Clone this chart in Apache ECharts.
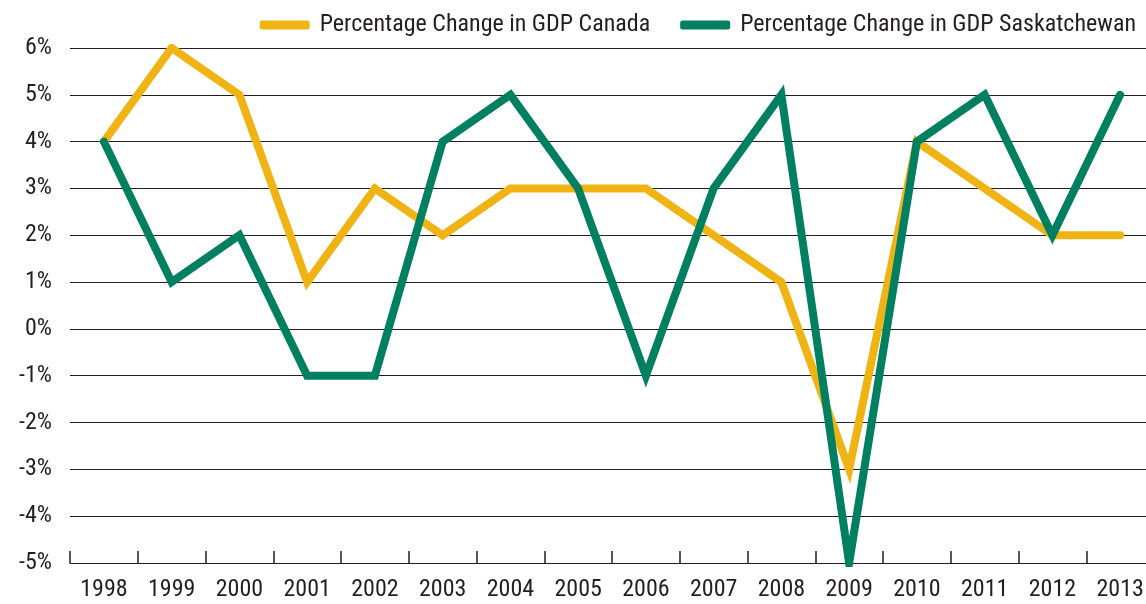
<!DOCTYPE html>
<html><head><meta charset="utf-8">
<script src="https://cdn.jsdelivr.net/npm/echarts@6/dist/echarts.min.js"></script>
<style>html,body{margin:0;padding:0;background:#fff;overflow:hidden}#c{width:1154px;height:604px}</style>
</head><body><div id="c"></div>
<script>
const years = ['1998','1999','2000','2001','2002','2003','2004','2005','2006','2007','2008','2009','2010','2011','2012','2013'];
const canada = [4,6,5,1,3,2,3,3,3,2,1,-3,4,3,2,2];
const sask = [4,1,2,-1,-1,4,5,3,-1,3,5,-5,4,5,2,5];
const seriesNames = ['Percentage Change in GDP Canada','Percentage Change in GDP Saskatchewan'];
const font = '"Liberation Sans Narrow","Roboto Condensed","Liberation Sans",sans-serif';
const chart = echarts.init(document.getElementById('c'));
chart.setOption({
  animation:false,
  textStyle:{fontFamily:font},
  legend:{
    top:8,right:13,itemWidth:50,itemHeight:9,itemGap:30,
    icon:'roundRect',
    textStyle:{fontFamily:font,fontSize:24,color:'#231f20',padding:[0,0,0,5]},
    data:seriesNames
  },
  grid:{left:70,right:0,top:48,bottom:41,containLabel:false},
  xAxis:{
    type:'category',data:years,boundaryGap:true,
    axisLine:{show:true,onZero:false,lineStyle:{color:'#231f20',width:1.2}},
    axisTick:{show:true,inside:true,length:12,interval:0,alignWithLabel:false,lineStyle:{color:'#231f20',width:1.5}},
    axisLabel:{fontFamily:font,fontSize:24,color:'#231f20',margin:15}
  },
  yAxis:{
    type:'value',min:-5,max:6,interval:1,
    axisLine:{show:false},axisTick:{show:false},
    splitLine:{lineStyle:{color:'#231f20',width:1.2}},
    axisLabel:{fontFamily:font,fontSize:24,color:'#231f20',margin:18,formatter:v=>v+'%'}
  },
  series:[
    {name:seriesNames[0],type:'line',data:canada,showSymbol:false,color:'#efb314',
     lineStyle:{width:8,color:'#efb314',cap:'round',join:'miter'}},
    {name:seriesNames[1],type:'line',data:sask,showSymbol:false,color:'#008060',
     lineStyle:{width:8,color:'#008060',cap:'round',join:'miter'}}
  ]
});
</script></body></html>
